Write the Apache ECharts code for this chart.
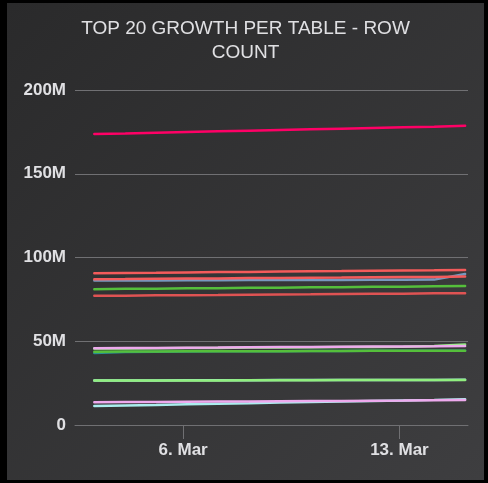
<!DOCTYPE html>
<html>
<head>
<meta charset="utf-8">
<script src="https://cdn.jsdelivr.net/npm/echarts@6/dist/echarts.min.js"></script>
<style>
  html, body { margin: 0; padding: 0; background: #000; }
  .charts { position: absolute; left: 7px; top: 3px; width: 477px; height: 477px; }
</style>
</head>
<body>
<div id="chart" class="charts"></div>
<script>
// daily samples (UTC)
const dates = [
  '2021-03-03T03:00:00Z', '2021-03-04T03:00:00Z', '2021-03-05T03:00:00Z', '2021-03-06T03:00:00Z',
  '2021-03-07T03:00:00Z', '2021-03-08T03:00:00Z', '2021-03-09T03:00:00Z', '2021-03-10T03:00:00Z',
  '2021-03-11T03:00:00Z', '2021-03-12T03:00:00Z', '2021-03-13T03:00:00Z', '2021-03-14T03:00:00Z',
  '2021-03-15T03:00:00Z'
]
const xTicks = ['2021-03-06T00:00:00Z', '2021-03-13T00:00:00Z']
const yTicks = [0, 50e6, 100e6, 150e6, 200e6]

// row counts in millions
const tableJ = [43.0, 43.6, 43.8, 43.9, 44.0, 44.1, 44.1, 44.2, 44.2, 44.3, 44.3, 44.4, 44.4]
const tableH = [43.8, 43.9, 43.9, 44.0, 44.0, 44.1, 44.1, 44.2, 44.2, 44.3, 44.3, 44.4, 44.4]
const tableI = [45.6, 45.7, 45.8, 45.9, 46.0, 46.2, 46.3, 46.4, 46.5, 46.6, 46.7, 47.2, 48.1]
const tableG = [45.8, 45.9, 46.0, 46.1, 46.2, 46.4, 46.5, 46.6, 46.7, 46.8, 46.9, 47.0, 47.2]
const tableK = [26.5, 26.5, 26.6, 26.6, 26.6, 26.7, 26.7, 26.7, 26.8, 26.8, 26.8, 26.9, 26.9]
const tableL = [26.6, 26.6, 26.6, 26.7, 26.7, 26.7, 26.8, 26.8, 26.8, 26.9, 26.9, 26.9, 27.0]
const tableM = [13.6, 13.7, 13.8, 13.9, 14.0, 14.1, 14.2, 14.3, 14.4, 14.5, 14.6, 14.8, 14.9]
const tableN = [11.4, 11.7, 12.0, 12.4, 12.7, 13.0, 13.4, 13.7, 14.0, 14.4, 14.7, 15.0, 15.4]
const tableF = [77.1, 77.2, 77.4, 77.5, 77.6, 77.8, 77.9, 78.0, 78.2, 78.3, 78.4, 78.6, 78.7]
const tableE = [81.1, 81.3, 81.4, 81.6, 81.7, 81.9, 82.0, 82.2, 82.3, 82.5, 82.6, 82.8, 83.0]
const tableD = [86.2, 86.3, 86.3, 86.4, 86.4, 86.5, 86.5, 86.6, 86.6, 86.7, 86.7, 86.8, 90.2]
const tableC = [87.0, 87.1, 87.3, 87.4, 87.5, 87.7, 87.8, 87.9, 88.0, 88.2, 88.3, 88.4, 88.6]
const tableB = [90.6, 90.8, 90.9, 91.1, 91.3, 91.4, 91.6, 91.8, 91.9, 92.1, 92.3, 92.4, 92.6]
const tableA = [173.8, 174.1, 174.5, 174.9, 175.3, 175.7, 176.1, 176.5, 176.9, 177.3, 177.7, 178.1, 178.6]

// drawing order: first is at the bottom
const lines = [
  { name: 'Table J', color: '#2b908f', values: tableJ },
  { name: 'Table H', color: '#55BF3B', values: tableH },
  { name: 'Table I', color: '#90ee7e', values: tableI },
  { name: 'Table G', color: '#eeaaee', values: tableG },
  { name: 'Table L', color: '#aaeeee', values: tableL },
  { name: 'Table K', color: '#90ee7e', values: tableK },
  { name: 'Table N', color: '#aaeeee', values: tableN },
  { name: 'Table M', color: '#eeaaee', values: tableM },
  { name: 'Table F', color: '#DF5353', values: tableF },
  { name: 'Table E', color: '#55BF3B', values: tableE },
  { name: 'Table D', color: '#7798BF', values: tableD },
  { name: 'Table C', color: '#f45b5b', values: tableC },
  { name: 'Table B', color: '#f45b5b', values: tableB },
  { name: 'Table A', color: '#ff0066', values: tableA }
]

const textColor = '#E0E0E3'
const gridColor = '#707073'
const months = ['Jan', 'Feb', 'Mar', 'Apr', 'May', 'Jun', 'Jul', 'Aug', 'Sep', 'Oct', 'Nov', 'Dec']
const tickValues = xTicks.map(d => Date.parse(d))

const option = {
  animation: false,
  backgroundColor: {
    type: 'linear',
    x: 0, y: 0, x2: 1, y2: 1,
    colorStops: [
      { offset: 0, color: '#2a2a2b' },
      { offset: 1, color: '#3e3e40' }
    ]
  },
  title: {
    text: 'TOP 20 GROWTH PER TABLE - ROW\nCOUNT',
    left: 'center',
    top: 9,
    textStyle: {
      color: textColor,
      fontFamily: 'Liberation Sans',
      fontSize: 19,
      fontWeight: 'normal',
      lineHeight: 24
    }
  },
  grid: {
    left: 68,
    right: 16,
    top: 87,
    bottom: 55
  },
  xAxis: {
    type: 'value',
    min: Date.parse('2021-03-02T12:00:00Z'),
    max: Date.parse('2021-03-15T05:15:00Z'),
    splitLine: { show: false },
    axisLine: {
      lineStyle: { color: gridColor, width: 1 }
    },
    axisTick: {
      length: 14,
      lineStyle: { color: gridColor },
      customValues: tickValues
    },
    axisLabel: {
      margin: 17,
      color: textColor,
      fontFamily: 'Liberation Sans',
      fontSize: 17,
      fontWeight: 'bold',
      customValues: tickValues,
      formatter: function (value) {
        const d = new Date(value)
        return d.getUTCDate() + '. ' + months[d.getUTCMonth()]
      }
    }
  },
  yAxis: {
    type: 'value',
    min: yTicks[0],
    max: yTicks[yTicks.length - 1],
    interval: yTicks[1] - yTicks[0],
    axisLine: { show: false },
    axisTick: { show: false },
    splitLine: {
      lineStyle: { color: gridColor, width: 1 }
    },
    axisLabel: {
      margin: 9,
      color: textColor,
      fontFamily: 'Liberation Sans',
      fontSize: 17,
      fontWeight: 'bold',
      formatter: function (value) {
        return value === 0 ? '0' : (value / 1e6) + 'M'
      }
    }
  },
  series: lines.map(l => ({
    name: l.name,
    type: 'line',
    showSymbol: false,
    symbol: 'none',
    color: l.color,
    lineStyle: { width: 2.5, color: l.color, cap: 'round' },
    data: dates.map((d, i) => [Date.parse(d), l.values[i] * 1e6])
  }))
}

const dom = echarts.init(document.getElementById('chart'))
dom.setOption(option)
window.addEventListener('resize', () => dom.resize())
</script>
</body>
</html>
